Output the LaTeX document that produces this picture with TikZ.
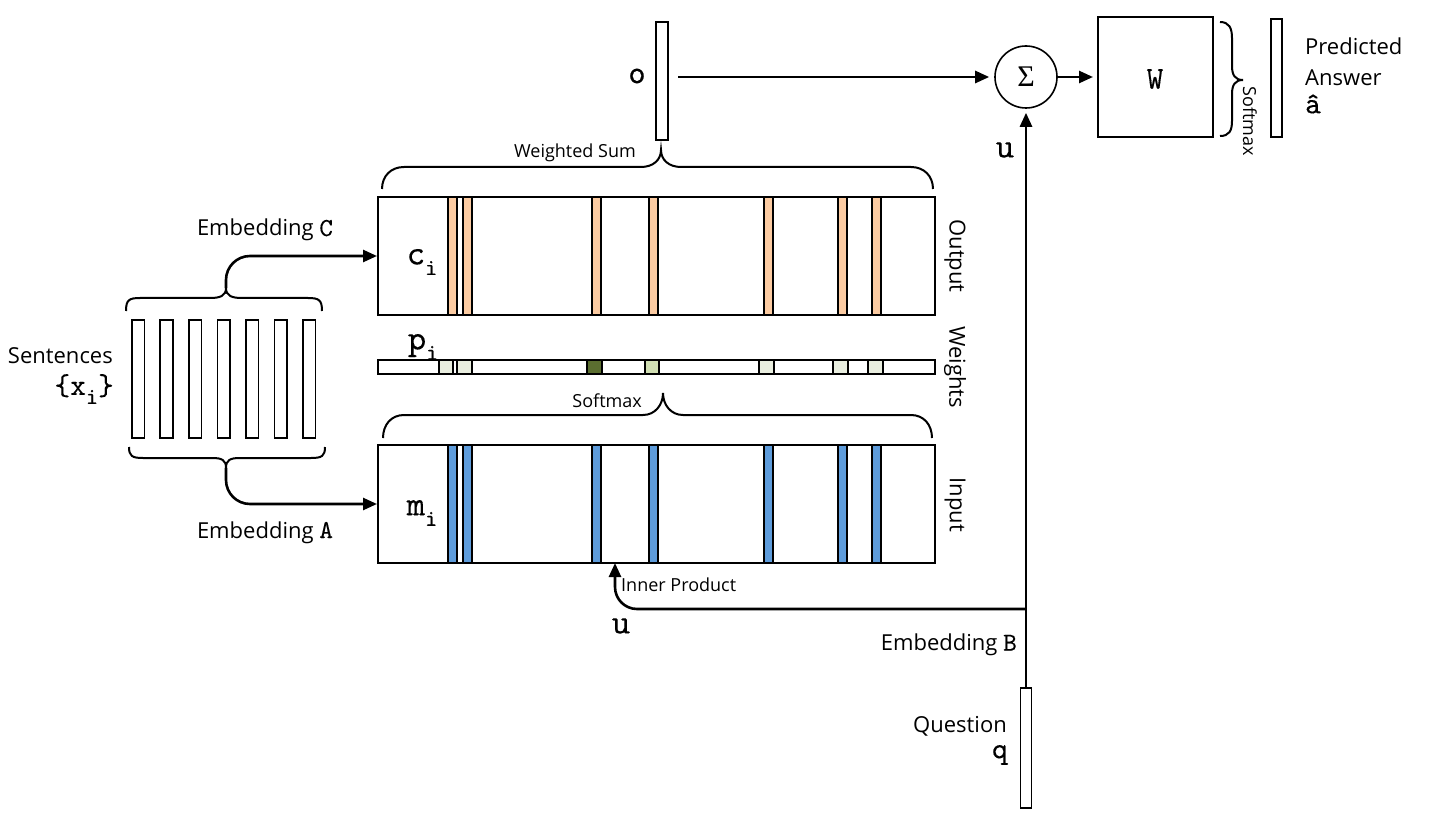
\documentclass[tikz,border=0pt]{standalone}
\usepackage{fontspec}
\setmainfont{Open Sans}
\setmonofont{lmmono10-regular.otf}[FakeBold=0.25]
\newfontfamily\greekserif{Liberation Serif}
\usetikzlibrary{arrows.meta,calc}
\definecolor{peach}{HTML}{FBCBA2}
\definecolor{skyb}{HTML}{5E9CDB}
\definecolor{wpale}{HTML}{E9EEDF}
\definecolor{wmid}{HTML}{D1DFB3}
\definecolor{wdark}{HTML}{5B6E30}
\newcommand\mysub[1]{\raisebox{-0.3em}{\fontsize{23}{23}\selectfont\ttfamily #1}}
\begin{document}
\begin{tikzpicture}[x=1pt,y=-1pt,
  box/.style={draw, line width=1.6pt, inner sep=0pt, outer sep=0pt},
  arr/.style={line width=2.6pt, -{Triangle[length=14pt,width=12pt]}},
  brc/.style={line width=2pt},
  lbl/.style={font=\fontsize{22}{26}\selectfont, inner sep=0pt},
  small/.style={font=\fontsize{18}{21}\selectfont, inner sep=0pt},
  mono/.style={font=\fontsize{35}{36}\selectfont\ttfamily, inner sep=0pt},
  monos/.style={font=\fontsize{30}{32}\selectfont\ttfamily, inner sep=0pt},
  ostripe/.style={draw, line width=1.1pt, fill=peach},
  bstripe/.style={draw, line width=1.1pt, fill=skyb},
  wsq/.style={draw, line width=1.2pt}
]
\useasboundingbox (0,0) rectangle (1432,826);

% ---------- sentences ----------
\foreach \i in {0,...,6}
  \node[box, minimum width=12.6pt, minimum height=118pt, anchor=north west] (s\i) at ({131.7+28.55*\i},320) {};
\node[lbl, anchor=east] (sent) at (113,356) {Sentences};
\node[monos, anchor=east] (xi) at (114,389) {\{x\mysub{i}\}};

% braces left
\draw[brc] (126,311) .. controls (126,300) and (129,298) .. (140,298) -- (210,298)
  .. controls (220,298) and (226,296) .. (226,288)
  .. controls (226,296) and (232,298) .. (242,298) -- (308,298)
  .. controls (319,298) and (322,300) .. (322,311);
\coordinate (cC) at (226,288);
\draw[brc] (129,447) .. controls (129,456) and (132,458) .. (143,458) -- (212,458)
  .. controls (222,458) and (226,460) .. (226,468)
  .. controls (226,460) and (230,458) .. (240,458) -- (311,458)
  .. controls (322,458) and (325,456) .. (325,447);
\coordinate (cA) at (226,468);

% ---------- output / weights / input ----------
\node[box, minimum width=557pt, minimum height=118pt, anchor=north west] (out) at (378,197) {};
\node[box, minimum width=557pt, minimum height=118pt, anchor=north west] (inp) at (378,445) {};
\node[box, minimum width=557pt, minimum height=14pt, anchor=north west] (wts) at (378,360) {};
\foreach \x in {448,463,592,649,764,838,872} {
  \draw[ostripe] (\x,197) rectangle ++(9,118);
  \draw[bstripe] (\x,445) rectangle ++(9,118);
}
\draw[wsq, fill=wpale] (439,360) rectangle (453,374);
\draw[wsq, fill=wpale] (457,360) rectangle (472,374);
\draw[wsq, fill=wdark] (587,360) rectangle (602,374);
\draw[wsq, fill=wmid]  (645,360) rectangle (659,374);
\draw[wsq, fill=wpale] (759,360) rectangle (774,374);
\draw[wsq, fill=wpale] (833,360) rectangle (848,374);
\draw[wsq, fill=wpale] (868,360) rectangle (883,374);

\node[mono] (ci) at (422,262) {c\mysub{i}};
\node[mono] (pi) at (423,347) {p\mysub{i}};
\node[mono] (mi) at (422,513) {m\mysub{i}};

\node[lbl, rotate=-90] (lout) at (955,256) {Output};
\node[lbl, rotate=-90] (lwts) at (955,367) {Weights};
\node[lbl, rotate=-90] (linp) at (955,505) {Input};

% weighted sum brace
\draw[brc] (382,189) .. controls (382,176) and (391,167) .. (404,167) -- (641,167)
  .. controls (653,167) and (661,160) .. (661,150)
  .. controls (661,160) and (669,167) .. (681,167) -- (911,167)
  .. controls (924,167) and (933,176) .. (933,189);
\node[small, anchor=east] (wsum) at (636,153) {Weighted Sum};
% softmax brace
\draw[brc] (383,438) .. controls (383,425) and (391,415) .. (404,415) -- (643,415)
  .. controls (655,415) and (663,405) .. (663,393)
  .. controls (663,405) and (671,415) .. (683,415) -- (911,415)
  .. controls (924,415) and (932,425) .. (932,438);
\node[small, anchor=east] (smx) at (642,401) {Softmax};

% embedding arrows
\draw[arr, rounded corners=24pt, shorten >=1pt] (cC) |- (out.west);
\draw[arr, rounded corners=24pt, shorten >=1pt] (cA) |- (inp.west);
\node[lbl, anchor=base] (embC) at (265,236) {Embedding \fontsize{26}{26}\selectfont\ttfamily C};
\node[lbl, anchor=base] (embA) at (265,538) {Embedding \fontsize{26}{26}\selectfont\ttfamily A};

% ---------- top right ----------
\node[box, minimum width=12pt, minimum height=118pt, anchor=north west] (obar) at (656,22) {};
\node[monos, font=\fontsize{33}{33}\selectfont\ttfamily] (olab) at (637,76) {o};
\node[draw, circle, line width=1.6pt, minimum size=62pt, inner sep=0pt] (sig) at (1026,77)
  {\fontsize{30}{30}\selectfont\greekserif Σ};
\node[box, minimum width=115pt, minimum height=120pt, anchor=north west] (W) at (1098,17) {};
\node[monos, font=\fontsize{32}{32}\selectfont\ttfamily] (Wl) at (1155,79) {W};
\node[box, minimum width=11pt, minimum height=118pt, anchor=north west] (ans) at (1271,19) {};
\node[lbl, anchor=west] (pred) at (1305,46) {Predicted};
\node[lbl, anchor=west] (answ) at (1305,78) {Answer};
\node[monos, anchor=west] (ahat) at (1305,104) {\^a};
\draw[brc] (1220,22) .. controls (1229,22) and (1232,28) .. (1232,38) -- (1232,66)
  .. controls (1232,75) and (1235,80) .. (1243,80)
  .. controls (1235,80) and (1232,85) .. (1232,94) -- (1232,121)
  .. controls (1232,131) and (1229,136) .. (1220,136);
\node[small, rotate=-90] (smx2) at (1250,121) {Softmax};

\draw[arr, shorten >=5pt] ($(obar.east |- sig)+(10,0)$) -- (sig);
\draw[arr, shorten >=5pt] (sig) -- (W);

% ---------- question ----------
\node[box, minimum width=11pt, minimum height=120pt, anchor=north] (qbar) at (1026,688) {};
\node[lbl, anchor=east] (quest) at (1007,726) {Question};
\node[monos, anchor=east] (qlab) at (1008,755) {q};
\node[lbl, anchor=east] (embB) at (1017,645) {Embedding \fontsize{26}{26}\selectfont\ttfamily B};
\draw[arr, shorten >=4pt] (qbar.north) -- (sig.south);
\coordinate (junc) at (1026,609);
\coordinate (ipt) at (615,563);
\draw[arr, rounded corners=22pt] (junc) -| (ipt);
\node[mono] (u1) at (1005,150) {u};
\node[mono] (u2) at (621,626) {u};
\node[small, anchor=west] (inprod) at (621,585) {Inner Product};
\end{tikzpicture}
\end{document}
